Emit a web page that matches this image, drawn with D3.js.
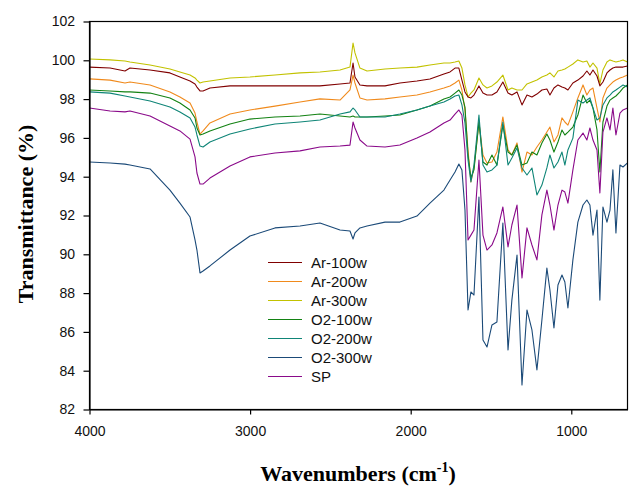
<!DOCTYPE html>
<html>
<head>
<meta charset="utf-8">
<script src="https://cdn.jsdelivr.net/npm/d3@7"></script>
<style>
  html, body { margin: 0; padding: 0; background: #fff; }
  svg { display: block; }
</style>
</head>
<body>
<svg id="chart" width="637" height="498"></svg>
<script>
// ---- data ----
const wavenumbers = [4000, 3872, 3779, 3748, 3623, 3499, 3437, 3374, 3343, 3331, 3312, 3293, 3250, 3125, 3001, 2845, 2689, 2565,
  2440, 2378, 2359, 2347, 2316, 2272, 2160, 2067, 1961, 1880,
  1793, 1755, 1724, 1700, 1681, 1662, 1643, 1625, 1606, 1575,
  1550, 1525, 1494, 1463, 1426, 1394, 1370, 1338, 1307, 1276,
  1245, 1214, 1183, 1152, 1133, 1108, 1083, 1058, 1040, 1021,
  990, 959, 927, 903, 884, 865, 840, 822, 803, 778,
  759, 741, 722, 697, 678, 650];

const seriesNames = ["Ar-100w", "Ar-200w", "Ar-300w", "O2-100w", "O2-200w", "O2-300w", "SP"];
const seriesColors = ["#800000", "#f08a1c", "#c2c200", "#138213", "#0f8577", "#1b4a78", "#8a0a8a"];

const ar100 = [99.65, 99.60, 99.45, 99.60, 99.50, 99.35, 99.14, 98.93, 98.78, 98.62, 98.42, 98.42, 98.57, 98.68, 98.68, 98.68, 98.68, 98.68,
  98.78, 98.83, 99.86, 99.14, 98.73, 98.68, 98.68, 98.83, 98.93, 99.04,
  99.29, 99.40, 99.60, 99.60, 98.98, 98.37, 98.11, 98.06, 98.21, 98.68,
  98.31, 98.21, 98.21, 98.37, 98.88, 98.31, 98.21, 98.37, 97.70, 98.21,
  98.11, 98.26, 98.47, 98.52, 98.21, 98.57, 98.73, 98.62, 98.57, 98.47,
  98.83, 98.98, 99.19, 99.45, 99.24, 99.50, 99.19, 98.68, 98.88, 99.35,
  99.50, 99.60, 99.65, 99.65, 99.65, 99.71];

const ar200 = [99.04, 98.98, 98.83, 98.88, 98.73, 98.37, 98.11, 97.80, 97.28, 96.82, 96.20, 96.36, 96.77, 97.23, 97.44, 97.64, 97.85, 98.01,
  97.95, 98.47, 99.24, 98.83, 98.06, 97.95, 98.01, 98.11, 98.21, 98.37,
  98.57, 98.68, 98.83, 98.98, 98.47, 97.44, 95.38, 93.73, 94.45, 96.82,
  95.12, 94.71, 94.76, 95.27, 97.08, 95.38, 95.12, 95.74, 94.24, 95.27,
  95.12, 95.53, 95.89, 96.30, 96.56, 95.79, 96.15, 97.03, 96.82, 96.66,
  97.34, 98.06, 98.73, 98.21, 98.47, 98.57, 97.54, 96.82, 98.06, 98.57,
  98.73, 98.88, 98.98, 99.09, 99.14, 99.24];

const ar300 = [100.07, 100.02, 99.96, 99.91, 99.76, 99.55, 99.40, 99.24, 99.09, 98.98, 98.83, 98.88, 98.93, 99.09, 99.14, 99.24, 99.35, 99.40,
  99.50, 99.65, 100.89, 100.38, 99.60, 99.45, 99.55, 99.60, 99.65, 99.76,
  99.86, 99.86, 99.91, 99.96, 99.60, 98.73, 98.11, 98.31, 98.47, 99.09,
  98.73, 98.57, 98.68, 98.88, 99.24, 98.47, 98.57, 98.47, 98.47, 98.78,
  98.88, 98.98, 99.14, 99.24, 99.35, 99.14, 99.45, 99.50, 99.55, 99.65,
  99.81, 100.02, 99.91, 99.96, 99.65, 99.86, 99.60, 98.78, 99.50, 99.91,
  100.02, 99.96, 99.91, 99.96, 100.02, 99.91];

const o2_100 = [98.47, 98.42, 98.37, 98.37, 98.31, 98.06, 97.80, 97.44, 97.03, 96.51, 96.15, 96.20, 96.36, 96.72, 96.97, 97.08, 97.13, 97.23,
  97.13, 97.08, 97.13, 97.08, 97.08, 97.08, 97.13, 97.18, 97.44, 97.64,
  98.01, 98.11, 98.31, 98.47, 98.21, 97.59, 95.12, 93.93, 94.35, 96.82,
  94.76, 94.60, 95.12, 94.60, 96.66, 95.27, 95.12, 95.63, 94.60, 94.71,
  95.27, 95.12, 95.74, 96.20, 95.89, 95.27, 95.79, 96.41, 96.15, 96.30,
  96.56, 97.18, 98.21, 97.80, 97.95, 97.54, 96.41, 94.24, 96.82, 97.64,
  97.95, 98.06, 98.16, 98.37, 98.57, 98.73];

const o2_200 = [98.37, 98.31, 98.16, 98.11, 97.90, 97.59, 97.34, 97.03, 96.56, 96.15, 95.58, 95.53, 95.79, 96.20, 96.46, 96.72, 96.82, 96.92,
  97.23, 97.34, 97.54, 97.44, 97.08, 97.08, 97.08, 97.23, 97.44, 97.64,
  97.85, 98.01, 98.16, 98.21, 97.70, 96.77, 94.86, 93.73, 94.60, 97.18,
  94.60, 94.24, 94.35, 94.60, 96.82, 94.60, 94.96, 95.48, 94.45, 94.09,
  94.45, 93.06, 93.57, 94.45, 95.12, 94.45, 94.76, 95.27, 94.60, 95.38,
  95.99, 97.95, 97.80, 97.95, 98.06, 97.54, 96.92, 97.03, 97.70, 98.06,
  98.21, 98.37, 98.47, 98.62, 98.73, 98.62];

const o2_300 = [94.76, 94.71, 94.65, 94.60, 94.40, 93.31, 92.64, 91.92, 90.74, 90.22, 89.04, 89.14, 89.40, 90.22, 90.94, 91.36, 91.46, 91.61,
  91.25, 91.20, 90.79, 91.10, 91.36, 91.46, 91.66, 91.66, 91.97, 92.64,
  93.31, 93.83, 94.24, 94.65, 94.35, 92.28, 87.13, 88.06, 87.90, 92.95,
  85.58, 85.22, 86.36, 86.51, 91.61, 85.07, 87.64, 89.96, 83.26, 87.13,
  86.10, 84.04, 86.61, 89.29, 88.16, 86.20, 88.42, 88.93, 88.57, 87.23,
  89.71, 91.66, 92.54, 92.80, 92.54, 90.99, 92.28, 87.64, 92.44, 91.66,
  92.28, 94.35, 91.10, 94.60, 94.50, 94.71];

const sp = [97.54, 97.39, 97.34, 97.39, 97.13, 96.61, 96.36, 95.94, 95.02, 94.19, 93.62, 93.62, 93.93, 94.55, 95.02, 95.22, 95.33, 95.53,
  95.58, 95.63, 96.82, 96.51, 95.89, 95.58, 95.53, 95.63, 95.99, 96.30,
  96.77, 96.92, 97.23, 97.44, 97.18, 95.38, 90.74, 90.99, 91.25, 94.86,
  90.99, 90.22, 90.48, 91.10, 92.44, 90.38, 91.51, 92.54, 88.78, 91.36,
  90.48, 89.71, 92.03, 93.31, 92.54, 91.25, 92.54, 93.31, 93.21, 92.64,
  94.35, 95.89, 96.25, 95.89, 96.51, 95.89, 95.38, 93.16, 96.30, 97.03,
  96.41, 97.54, 96.15, 97.28, 97.44, 97.54];

const seriesValues = [ar100, ar200, ar300, o2_100, o2_200, o2_300, sp];
const xTicks = [4000, 3000, 2000, 1000];
const yTicks = [82, 84, 86, 88, 90, 92, 94, 96, 98, 100, 102];

// ---- layout ----
const svg = d3.select("#chart");
const L = 89.5, R = 627.5, T = 21.5, B = 409.5;
const x = d3.scaleLinear().domain([4000, 650]).range([L, R]);
const y = d3.scaleLinear().domain([82, 102]).range([B, T]);

svg.append("defs").append("clipPath").attr("id", "clip")
  .append("rect").attr("x", L).attr("y", T).attr("width", R - L).attr("height", B - T);

// series
const line = d3.line().x(d => x(d[0])).y(d => y(d[1]));
const g = svg.append("g").attr("clip-path", "url(#clip)");
// draw in order so that the lower curves are on top like reference
const drawOrder = [2, 0, 1, 3, 4, 6, 5];
drawOrder.forEach(i => {
  const pts = wavenumbers.map((w, k) => [w, seriesValues[i][k]]);
  g.append("path").attr("d", line(pts))
    .attr("fill", "none").attr("stroke", seriesColors[i]).attr("stroke-width", 1.1)
    .attr("stroke-linejoin", "round");
});

// frame
svg.append("rect").attr("x", L).attr("y", T).attr("width", R - L).attr("height", B - T)
  .attr("fill", "none").attr("stroke", "#000").attr("stroke-width", 1.2);

// axes
const xAxis = svg.append("g").attr("transform", `translate(0,${B})`)
  .call(d3.axisBottom(x).tickValues(xTicks).tickFormat(d3.format("d")).tickSize(5).tickSizeOuter(0).tickPadding(11.5));
const yAxis = svg.append("g").attr("transform", `translate(${L},0)`)
  .call(d3.axisLeft(y).tickValues(yTicks).tickFormat(d3.format("d")).tickSize(6).tickSizeOuter(0).tickPadding(8.5));
[xAxis, yAxis].forEach(a => {
  a.select(".domain").attr("stroke", "#000").attr("stroke-width", 1.2);
  a.selectAll(".tick line").attr("stroke", "#000").attr("stroke-width", 1.2);
  a.selectAll(".tick text").attr("fill", "#111").style("font-family", "Arial, 'Liberation Sans', sans-serif").style("font-size", "14px");
});

// axis titles
const xt = svg.append("text").attr("x", 358).attr("y", 481).attr("text-anchor", "middle")
  .style("font-family", "'Times New Roman', 'Liberation Serif', serif").style("font-weight", "bold").style("font-size", "22px");
xt.append("tspan").text("Wavenumbers (cm");
xt.append("tspan").attr("dy", -9).style("font-size", "14px").text("-1");
xt.append("tspan").attr("dy", 9).text(")");

svg.append("text").attr("transform", "translate(33,214) rotate(-90)").attr("text-anchor", "middle")
  .style("font-family", "'Times New Roman', 'Liberation Serif', serif").style("font-weight", "bold").style("font-size", "22px")
  .text("Transmittance (%)");

// legend
const leg = svg.append("g");
seriesNames.forEach((n, i) => {
  const yy = 262.5 + i * 19;
  leg.append("line").attr("x1", 268).attr("x2", 302).attr("y1", yy).attr("y2", yy)
    .attr("stroke", seriesColors[i]).attr("stroke-width", 1.2);
  leg.append("text").attr("x", 311).attr("y", yy).attr("dy", "0.36em")
    .style("font-family", "Arial, 'Liberation Sans', sans-serif").style("font-size", "15px").attr("fill", "#111")
    .text(n);
});
</script>
</body>
</html>
